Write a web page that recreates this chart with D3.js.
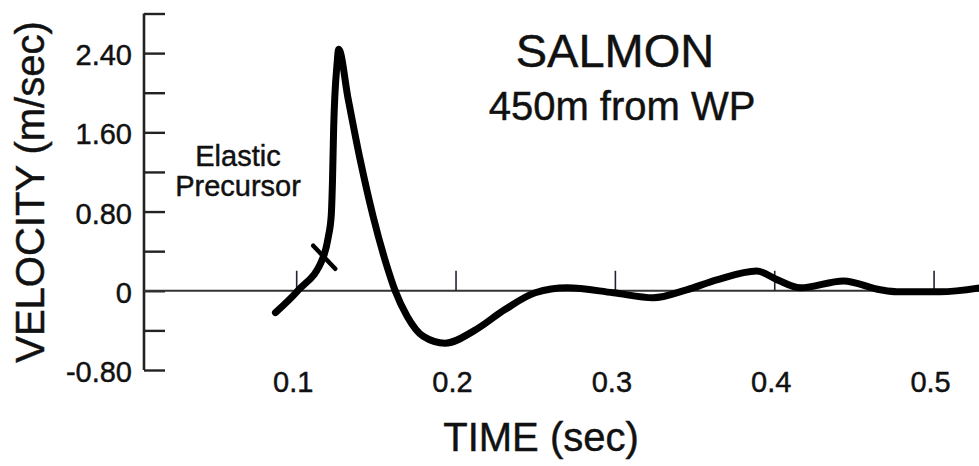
<!DOCTYPE html>
<html>
<head>
<meta charset="utf-8">
<script src="https://cdn.jsdelivr.net/npm/d3@7"></script>
<style>
  html, body { margin: 0; padding: 0; background: #fff; }
  svg { display: block; }
  text { font-family: "Liberation Sans", Arial, Helvetica, sans-serif; fill: #111; stroke: #111; stroke-width: 0.45px; }
</style>
</head>
<body>
<svg id="chart" width="979" height="466"></svg>
<script>
// ---- data ----
const time = [0.087, 0.101, 0.117, 0.1201, 0.1220, 0.1228, 0.1235, 0.1257, 0.1266, 0.1327, 0.1402, 0.1483, 0.1571, 0.1621, 0.1697, 0.1797, 0.1935, 0.212, 0.231, 0.250, 0.270, 0.299, 0.324, 0.345, 0.364, 0.389, 0.402, 0.4164, 0.4434, 0.4666, 0.477, 0.504, 0.529];
const velocity = [-0.22, 0, 0.34, 0.54, 0.76, 1.12, 1.63, 2.30, 2.44, 1.93, 1.32, 0.75, 0.24, 0, -0.26, -0.46, -0.53, -0.40, -0.19, -0.02, 0.03, -0.02, -0.07, 0.01, 0.11, 0.20, 0.11, 0.03, 0.10, 0.01, -0.01, -0.01, 0.03];
const xTicks = [0.1, 0.2, 0.3, 0.4, 0.5];
const xTickLabels = ["0.1", "0.2", "0.3", "0.4", "0.5"];
const yTicks = [-0.8, -0.4, 0, 0.4, 0.8, 1.2, 1.6, 2.0, 2.4, 2.8];
const yLabelTicks = [-0.8, 0, 0.8, 1.6, 2.4];
const yTickLabels = ["-0.80", "0", "0.80", "1.60", "2.40"];
const precursorMark = [[0.1107, 0.455], [0.1245, 0.222]];
const title = "SALMON";
const subtitle = "450m from WP";
const annotation = ["Elastic", "Precursor"];
const xTitle = "TIME (sec)";
const yTitle = "VELOCITY (m/sec)";

// ---- scales ----
const svg = d3.select("#chart");
const x = d3.scaleLinear().domain([0.0045, 0.5285]).range([144, 979]);
const y = d3.scaleLinear().domain([-0.8, 2.8]).range([370, 13.5]);

// ---- y axis (ticks pointing right) ----
const yAxis = d3.axisRight(y).tickValues(yTicks).tickSize(21).tickFormat("");
const gy = svg.append("g").attr("transform", `translate(${x.range()[0]},0)`).call(yAxis);
gy.select(".domain").attr("d", `M0,${y(2.8)}V${y(-0.8)}`).attr("stroke", "#222").attr("stroke-width", 2.6);
gy.selectAll(".tick line").attr("stroke", "#222").attr("stroke-width", 2.4);

svg.append("g").selectAll("text").data(yLabelTicks).join("text")
  .attr("x", 132).attr("y", d => y(d) + 2)
  .attr("dy", "0.35em").attr("text-anchor", "end")
  .attr("font-size", 29).text((d, i) => yTickLabels[i]);

// ---- zero line with x ticks pointing up ----
const xAxis = d3.axisTop(x).tickValues(xTicks).tickSize(20).tickFormat("");
const gx = svg.append("g").attr("transform", `translate(0,${y(0)})`).call(xAxis);
gx.select(".domain").attr("d", `M${x.range()[0]},0H${x.range()[1]}`).attr("stroke", "#333").attr("stroke-width", 2);
gx.selectAll(".tick line").attr("stroke", "#223").attr("stroke-width", 1.6);

svg.append("g").selectAll("text").data(xTicks).join("text")
  .attr("x", d => x(d) - 3).attr("y", 392)
  .attr("text-anchor", "middle").attr("font-size", 29)
  .text((d, i) => xTickLabels[i]);

// ---- curve ----
const pts = time.map((t, i) => [t, velocity[i]]);
const line = d3.line().x(d => x(d[0])).y(d => y(d[1])).curve(d3.curveMonotoneX);
svg.append("path").datum(pts).attr("d", line)
  .attr("fill", "none").attr("stroke", "#000").attr("stroke-width", 7)
  .attr("stroke-linejoin", "round").attr("stroke-linecap", "round");

// precursor mark
svg.append("path").datum(precursorMark)
  .attr("d", d3.line().x(d => x(d[0])).y(d => y(d[1])))
  .attr("stroke", "#000").attr("stroke-width", 4.5).attr("stroke-linecap", "round");

// ---- texts ----
svg.append("text").attr("x", 615).attr("y", 67).attr("text-anchor", "middle")
  .attr("font-size", 47).text(title);
svg.append("text").attr("x", 622).attr("y", 120).attr("text-anchor", "middle")
  .attr("font-size", 40).text(subtitle);
svg.append("text").attr("x", 238).attr("y", 166).attr("text-anchor", "middle")
  .attr("font-size", 29).text(annotation[0]);
svg.append("text").attr("x", 238).attr("y", 196).attr("text-anchor", "middle")
  .attr("font-size", 29).text(annotation[1]);
svg.append("text").attr("x", 541).attr("y", 451).attr("text-anchor", "middle")
  .attr("font-size", 40).text(xTitle);
svg.append("text").attr("transform", "translate(44,192) rotate(-90)")
  .attr("text-anchor", "middle").attr("font-size", 40).text(yTitle);
</script>
</body>
</html>
